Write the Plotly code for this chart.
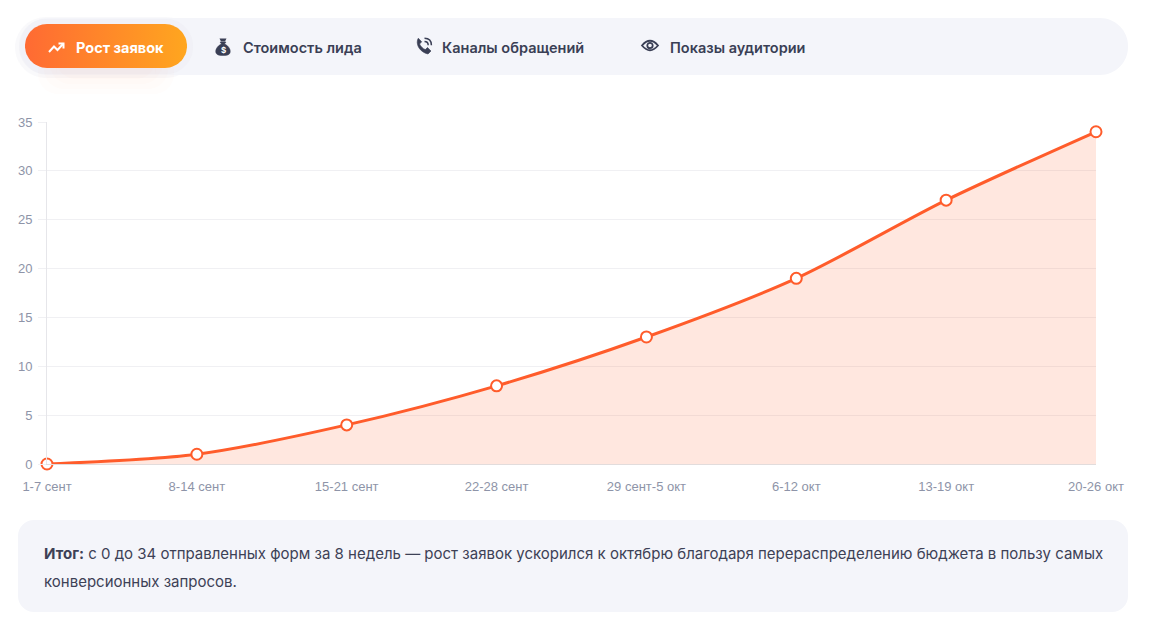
import numpy as np
import plotly.graph_objects as go

# data
weeks = ["1-7 сент", "8-14 сент", "15-21 сент", "22-28 сент",
         "29 сент-5 окт", "6-12 окт", "13-19 окт", "20-26 окт"]
leads = [0, 1, 4, 8, 13, 19, 27, 34]
y_ticks = [0, 5, 10, 15, 20, 25, 30, 35]
tabs = ["Рост заявок", "Стоимость лида", "Каналы обращений", "Показы аудитории"]
note_bold = "Итог:"
note_lines = ["с 0 до 34 отправленных форм за 8 недель — рост заявок ускорился к октябрю благодаря перераспределению бюджета в пользу самых",
              "конверсионных запросов."]

W, H = 1155, 633
ORANGE = "#ff5c2b"
DARK = "#3a3f55"
GREY = "#8e94a8"


def rrect(x0, y0, x1, y1, r):
    k = 0.5523 * r
    return (f"M{x0+r},{y0} H{x1-r} C{x1-r+k},{y0} {x1},{y0+r-k} {x1},{y0+r} "
            f"V{y1-r} C{x1},{y1-r+k} {x1-r+k},{y1} {x1-r},{y1} "
            f"H{x0+r} C{x0+r-k},{y1} {x0},{y1-r+k} {x0},{y1-r} "
            f"V{y0+r} C{x0},{y0+r-k} {x0+r-k},{y0} {x0+r},{y0} Z")


def pill_pts(x0, y0, x1, y1):
    r = (y1 - y0) / 2
    t = np.linspace(-np.pi / 2, np.pi / 2, 30)
    # right half top -> bottom, then left half bottom -> top
    xs = np.concatenate([x1 - r + r * np.cos(t), x0 + r - r * np.cos(t[::-1])])
    ys = np.concatenate([y0 + r + r * np.sin(t), y0 + r + r * np.sin(t[::-1])])
    return np.append(xs, xs[0]), np.append(ys, ys[0])


fig = go.Figure()

# main chart
fig.add_trace(go.Scatter(
    x=weeks, y=leads, mode="lines+markers",
    line=dict(color=ORANGE, width=3, shape="spline", smoothing=0.8),
    fill="tozeroy", fillcolor="rgba(255,92,43,0.15)",
    marker=dict(size=11, color="white", line=dict(color=ORANGE, width=2)),
    cliponaxis=False, showlegend=False, hoverinfo="x+y",
))

# gradient active tab (pixel overlay axes)
bx, by = pill_pts(25, 24, 187, 68)
fig.add_trace(go.Scatter(
    x=bx, y=by, xaxis="x2", yaxis="y2", mode="lines", line=dict(width=0),
    fill="toself",
    fillgradient=dict(type="horizontal",
                      colorscale=[[0, "#ff6a33"], [1, "#ffa61f"]]),
    showlegend=False, hoverinfo="skip",
))

shapes = []
# soft shadow around the active tab
shapes.append(dict(type="path", path=rrect(15, 17, 197, 78, 31), xref="x2", yref="y2",
                   fillcolor="rgba(232,232,240,0.25)", line=dict(width=0), layer="below"))
# tab bar
shapes.append(dict(type="path", path=rrect(20, 18, 1128, 75, 28), xref="x2", yref="y2",
                   fillcolor="#f4f5fa", line=dict(width=0), layer="below"))
shapes.append(dict(type="path", path=rrect(19, 19, 193, 74, 27), xref="x2", yref="y2",
                   fillcolor="rgba(238,238,244,0.5)", line=dict(width=0), layer="below"))
# orange glow below the tab
for i in range(4):
    shapes.append(dict(type="path", path=rrect(38 + i * 6, 50 + i * 2, 174 - i * 6, 94 - i * 5, 20),
                       xref="x2", yref="y2", fillcolor="rgba(255,150,120,0.018)",
                       line=dict(width=0), layer="below"))
# note box
shapes.append(dict(type="path", path=rrect(18, 520, 1128, 612, 16), xref="x2", yref="y2",
                   fillcolor="#f4f5fa", line=dict(width=0), layer="below"))

# icons
# trend arrow (white)
shapes.append(dict(type="path", path="M49,52 L54,46.5 L57.5,50 L63.5,43.5", xref="x2", yref="y2",
                   line=dict(color="white", width=2)))
shapes.append(dict(type="path", path="M58.5,43.5 L63.5,43.5 L63.5,48.5", xref="x2", yref="y2",
                   line=dict(color="white", width=2)))
# money bag
shapes.append(dict(type="path",
                   path="M220,42 L226,42 L224.5,44 C229,46 231,50 230,53 C229,55 227,55.5 223,55.5 "
                        "C219,55.5 217,55 216,53 C215,50 217,46 221.5,44 Z",
                   xref="x2", yref="y2", fillcolor=DARK, line=dict(color=DARK, width=0.5)))
shapes.append(dict(type="path", path="M219.5,38.5 L226.5,38.5 L225,41.5 L221,41.5 Z",
                   xref="x2", yref="y2", fillcolor=DARK, line=dict(width=0)))
# phone handset + waves
shapes.append(dict(type="path",
                   path="M417.5,40 C416,46 421,52.5 428,54 L431,51 L427.5,47.5 L425.3,49.6 "
                        "C422.8,48.6 420.6,46.4 419.6,44 L421.7,41.8 L418.3,38.2 Z",
                   xref="x2", yref="y2", fillcolor=DARK, line=dict(color=DARK, width=0.6)))
shapes.append(dict(type="path", path="M424.5,41.5 Q428.2,41.5 428.2,45.2", xref="x2", yref="y2",
                   line=dict(color=DARK, width=1.5)))
shapes.append(dict(type="path", path="M424.5,38.3 Q431.4,38.3 431.4,45.2", xref="x2", yref="y2",
                   line=dict(color=DARK, width=1.5)))
# eye
shapes.append(dict(type="path", path="M642,45.5 Q650,36 658,45.5 Q650,55 642,45.5 Z",
                   xref="x2", yref="y2", line=dict(color=DARK, width=1.8)))
shapes.append(dict(type="circle", x0=647.3, x1=652.7, y0=42.8, y1=48.2, xref="x2", yref="y2",
                   line=dict(color=DARK, width=1.8)))

annotations = []
tab_x = [74, 241, 440, 668]
for i, (t, x) in enumerate(zip(tabs, tab_x)):
    annotations.append(dict(
        text=t, x=x, y=47, xref="x2", yref="y2", xanchor="left", yanchor="middle",
        showarrow=False,
        font=dict(family="Inter", size=14.5, weight=700 if i == 0 else 600,
                  color="white" if i == 0 else DARK),
    ))
# money sign on the bag
annotations.append(dict(text="$", x=223, y=50, xref="x2", yref="y2", showarrow=False,
                        font=dict(family="Inter", size=8, weight=700, color="white")))
# note text
annotations.append(dict(text=f"<b>{note_bold}</b> {note_lines[0]}", x=42, y=553, xref="x2", yref="y2",
                        xanchor="left", yanchor="middle", showarrow=False,
                        font=dict(family="Inter", size=15, color="#3d4156")))
annotations.append(dict(text=note_lines[1], x=42, y=581, xref="x2", yref="y2",
                        xanchor="left", yanchor="middle", showarrow=False,
                        font=dict(family="Inter", size=15, color="#3d4156")))

fig.update_layout(
    width=W, height=H,
    margin=dict(l=0, r=0, t=0, b=0, autoexpand=False),
    paper_bgcolor="white", plot_bgcolor="rgba(0,0,0,0)",
    font=dict(family="Liberation Sans", color=GREY),
    xaxis=dict(domain=[47 / W, 1096 / W], range=[0, 7], showgrid=False, automargin=False,
               showline=True, linecolor="#e2dcdc", linewidth=1,
               ticks="outside", ticklen=10, tickcolor="rgba(0,0,0,0)",
               tickfont=dict(family="Liberation Sans", size=13, color=GREY), fixedrange=True),
    yaxis=dict(domain=[1 - 464 / H, 1 - 122 / H], range=[0, 35], tickvals=y_ticks, automargin=False,
               showgrid=True, gridcolor="#f0f0f3", zeroline=False,
               showline=True, linecolor="#e6e6ea", ticks="outside", ticklen=8,
               tickcolor="#f0f0f3", ticklabelstandoff=3,
               tickfont=dict(family="Liberation Sans", size=13, color=GREY),
               fixedrange=True),
    xaxis2=dict(domain=[0, 1], range=[0, W], visible=False, anchor="y2", fixedrange=True),
    yaxis2=dict(domain=[0, 1], range=[H, 0], visible=False, anchor="x2", fixedrange=True),
    shapes=shapes, annotations=annotations,
)

fig.write_html("out.html", config={"displayModeBar": False},
               post_script="document.body.style.margin='0';")
